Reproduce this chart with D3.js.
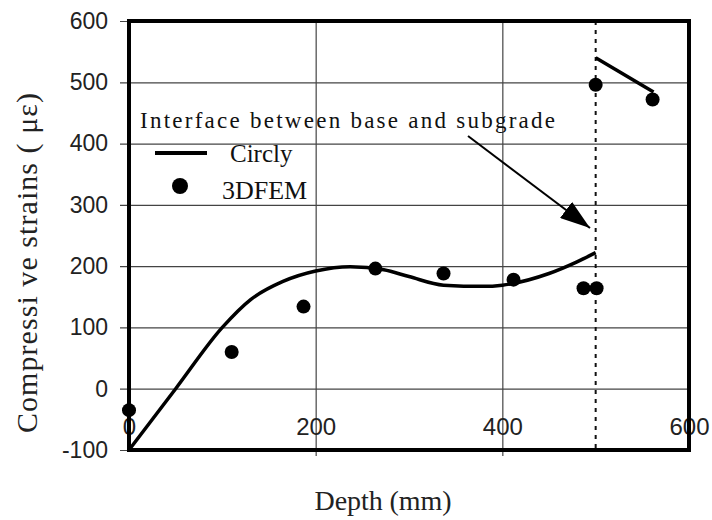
<!DOCTYPE html>
<html>
<head>
<meta charset="utf-8">
<script src="https://cdn.jsdelivr.net/npm/d3@7/dist/d3.min.js"></script>
<style>
  html, body { margin: 0; padding: 0; background: #fff; }
  svg { display: block; }
</style>
</head>
<body>
<svg id="chart" width="712" height="520"></svg>
<script>
// Compressive strain vs depth: Circly solution (line) and 3DFEM results (dots)
const xTicks = [0, 200, 400, 600];
const yTicks = [-100, 0, 100, 200, 300, 400, 500, 600];

// Circly, base layer (0-500 mm)
const circlyBaseDepth  = [0, 50, 100, 130, 165, 200, 237, 273, 300, 337, 380, 400, 450, 480, 500];
const circlyBaseStrain = [-100, 0, 100, 145, 175, 192, 199, 194, 183, 169, 167, 169, 188, 207, 222];
// Circly, subgrade (500 mm and below)
const circlySubDepth  = [500, 562];
const circlySubStrain = [540, 484];

// 3DFEM points
const femDepth  = [0, 110, 187, 264, 337, 412, 487, 501, 500, 561];
const femStrain = [-35, 60, 134, 196, 188, 178, 164, 164, 496, 472];

const interfaceDepth = 500;

const legendTitle = "Interface between base and subgrade";
const seriesNames = ["Circly", "3DFEM"];
const xTitle = "Depth (mm)";
const yTitle = "Compressi ve strains ( με)";

const serif = "'Liberation Serif', 'Times New Roman', serif";
const sans = "'Liberation Sans', Arial, sans-serif";

const svg = d3.select("#chart");
const plotLeft = 129, plotRight = 689, plotTop = 21, plotBottom = 450;

const x = d3.scaleLinear().domain([0, 600]).range([plotLeft, plotRight]);
const y = d3.scaleLinear().domain([-100, 600]).range([plotBottom, plotTop]);

// horizontal grid with short outer ticks
svg.append("g")
  .attr("transform", `translate(${plotLeft},0)`)
  .call(d3.axisLeft(y).tickValues(yTicks).tickSizeInner(-(plotRight - plotLeft)).tickSizeOuter(0).tickPadding(0).tickFormat(""))
  .call(g => g.select(".domain").remove())
  .call(g => g.selectAll(".tick line")
      .attr("x1", -9)
      .attr("stroke", "#444").attr("stroke-width", 1.2));

// vertical grid
svg.append("g")
  .attr("transform", `translate(0,${plotBottom})`)
  .call(d3.axisBottom(x).tickValues([200, 400]).tickSizeInner(-(plotBottom - plotTop)).tickSizeOuter(0).tickFormat(""))
  .call(g => g.select(".domain").remove())
  .call(g => g.selectAll(".tick line")
      .attr("y1", 6)
      .attr("stroke", "#444").attr("stroke-width", 1.2));

// y tick labels
svg.append("g")
  .attr("transform", `translate(${plotLeft},0)`)
  .call(d3.axisLeft(y).tickValues(yTicks).tickSize(0).tickPadding(21).tickFormat(d3.format("d")))
  .call(g => g.select(".domain").remove())
  .call(g => g.selectAll("text")
      .attr("font-family", sans).attr("font-size", 23).attr("fill", "#222")
      .text(d => d < 0 ? "-" + Math.abs(d) : d));

// x tick labels sit just above the bottom frame
svg.append("g")
  .attr("transform", `translate(0,${plotBottom})`)
  .call(d3.axisTop(x).tickValues(xTicks).tickSize(0).tickPadding(15).tickFormat(d3.format("d")))
  .call(g => g.select(".domain").remove())
  .call(g => g.selectAll("text")
      .attr("font-family", sans).attr("font-size", 24).attr("fill", "#222"));

// interface line
svg.append("line")
  .attr("x1", x(interfaceDepth)).attr("x2", x(interfaceDepth))
  .attr("y1", plotTop).attr("y2", plotBottom)
  .attr("stroke", "#111").attr("stroke-width", 2)
  .attr("stroke-dasharray", "4,5");

// frame
svg.append("rect")
  .attr("x", plotLeft).attr("y", plotTop)
  .attr("width", plotRight - plotLeft).attr("height", plotBottom - plotTop)
  .attr("fill", "none").attr("stroke", "#000").attr("stroke-width", 4);

// Circly curves
const line = d3.line()
  .x(d => x(d[0])).y(d => y(d[1]))
  .curve(d3.curveMonotoneX);

svg.append("path")
  .datum(d3.zip(circlyBaseDepth, circlyBaseStrain))
  .attr("d", line)
  .attr("fill", "none").attr("stroke", "#000").attr("stroke-width", 3.5);

svg.append("path")
  .datum(d3.zip(circlySubDepth, circlySubStrain))
  .attr("d", line)
  .attr("fill", "none").attr("stroke", "#000").attr("stroke-width", 3.5);

// 3DFEM dots
svg.append("g")
  .selectAll("circle")
  .data(d3.zip(femDepth, femStrain))
  .join("circle")
  .attr("cx", d => x(d[0])).attr("cy", d => y(d[1]))
  .attr("r", 7).attr("fill", "#000");

// legend
svg.append("text")
  .attr("x", 140).attr("y", 128)
  .attr("font-family", serif).attr("font-size", 23).attr("fill", "#111")
  .attr("textLength", 415)
  .text(legendTitle);

svg.append("line")
  .attr("x1", 155).attr("x2", 207).attr("y1", 153).attr("y2", 153)
  .attr("stroke", "#000").attr("stroke-width", 4);
svg.append("text")
  .attr("x", 230).attr("y", 162)
  .attr("font-family", serif).attr("font-size", 25).attr("fill", "#111")
  .text(seriesNames[0]);

svg.append("circle")
  .attr("cx", 180).attr("cy", 186).attr("r", 8).attr("fill", "#000");
svg.append("text")
  .attr("x", 222).attr("y", 199)
  .attr("font-family", serif).attr("font-size", 26).attr("fill", "#111")
  .text(seriesNames[1]);

// arrow pointing at the interface
svg.append("defs").append("marker")
  .attr("id", "head")
  .attr("viewBox", "0 0 30 20")
  .attr("refX", 30).attr("refY", 10)
  .attr("markerWidth", 30).attr("markerHeight", 20)
  .attr("markerUnits", "userSpaceOnUse")
  .attr("orient", "auto")
  .append("path")
  .attr("d", "M0,0 L30,10 L0,20 Z")
  .attr("fill", "#000");

svg.append("line")
  .attr("x1", 468).attr("y1", 136)
  .attr("x2", 590).attr("y2", 228)
  .attr("stroke", "#000").attr("stroke-width", 2)
  .attr("marker-end", "url(#head)");

// axis titles
svg.append("text")
  .attr("x", 383).attr("y", 510)
  .attr("text-anchor", "middle")
  .attr("font-family", serif).attr("font-size", 28).attr("fill", "#222")
  .attr("textLength", 137)
  .text(xTitle);

svg.append("text")
  .attr("transform", "translate(37,263) rotate(-90)")
  .attr("text-anchor", "middle")
  .attr("font-family", serif).attr("font-size", 30).attr("fill", "#222")
  .attr("textLength", 340)
  .text(yTitle);
</script>
</body>
</html>
